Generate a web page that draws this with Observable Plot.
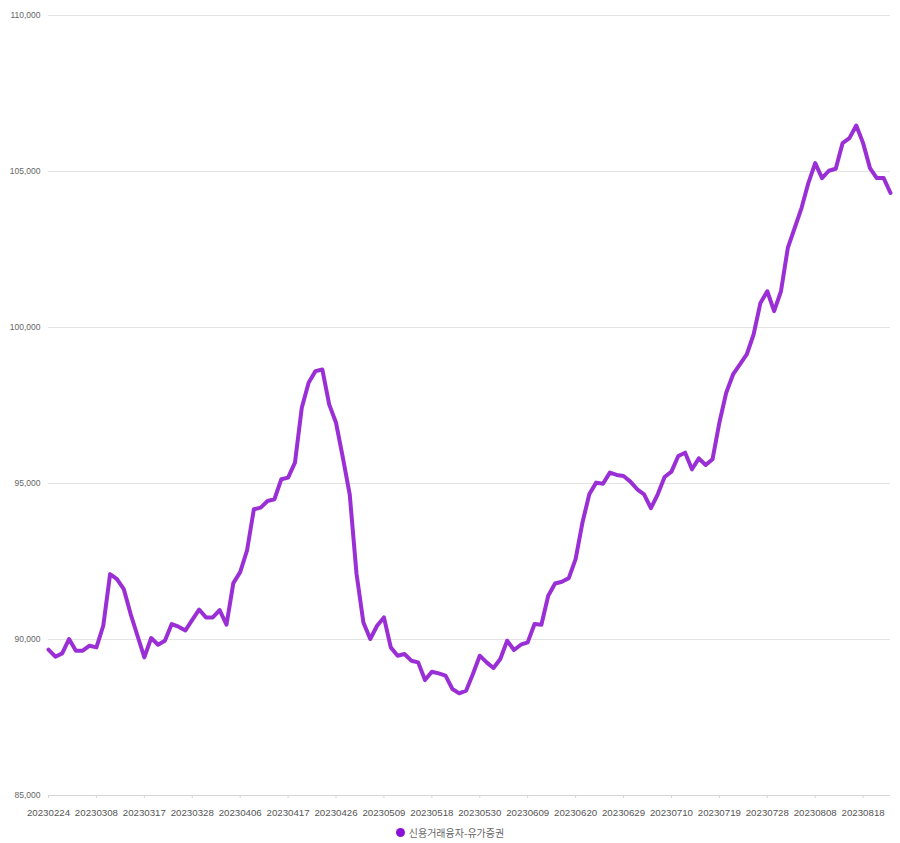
<!DOCTYPE html>
<html>
<head>
<meta charset="utf-8">
<script src="https://cdn.jsdelivr.net/npm/d3@7"></script>
<script src="https://cdn.jsdelivr.net/npm/@observablehq/plot@0.6"></script>
<style>
  html, body { margin: 0; padding: 0; background: #ffffff; }
  body { width: 900px; height: 843px; overflow: hidden; font-family: "Liberation Sans", Arial, "Noto Sans CJK KR", sans-serif; }
  #legend { height: 21px; display: flex; align-items: center; justify-content: center; padding-left: 0px; gap: 4px; font-family: "Noto Sans CJK KR", "Liberation Sans", sans-serif; font-size: 10px; color: #666; }
  #legend .dot { width: 9px; height: 9px; border-radius: 50%; background: #8a12d6; display: inline-block; }
</style>
</head>
<body>
<div id="chart"></div>
<div id="legend"></div>
<script>
const seriesName = "신용거래융자-유가증권";

const dates = [
  "20230224","20230227","20230228",
  "20230302","20230303","20230306","20230307","20230308","20230309","20230310",
  "20230313","20230314","20230315","20230316","20230317","20230320","20230321",
  "20230322","20230323","20230324","20230327","20230328","20230329","20230330","20230331",
  "20230403","20230404","20230405","20230406","20230407","20230410","20230411",
  "20230412","20230413","20230414","20230417","20230418","20230419","20230420",
  "20230421","20230424","20230425","20230426","20230427","20230428",
  "20230502","20230503","20230504","20230508","20230509","20230510","20230511",
  "20230512","20230515","20230516","20230517","20230518","20230519","20230522",
  "20230523","20230524","20230525","20230526","20230530","20230531",
  "20230601","20230602","20230605","20230607","20230608","20230609","20230612",
  "20230613","20230614","20230615","20230616","20230619","20230620","20230621",
  "20230622","20230623","20230626","20230627","20230628","20230629","20230630",
  "20230703","20230704","20230705","20230706","20230707","20230710","20230711",
  "20230712","20230713","20230714","20230717","20230718","20230719","20230720",
  "20230721","20230724","20230725","20230726","20230727","20230728","20230731",
  "20230801","20230802","20230803","20230804","20230807","20230808","20230809",
  "20230810","20230811","20230814","20230816","20230817","20230818","20230821",
  "20230822","20230823","20230824"
];

const values = [
  89673, 89449, 89554,
  90015, 89640, 89640, 89800, 89747, 90441, 92095,
  91935, 91615, 90815, 90120, 89427, 90047, 89833,
  89960, 90495, 90410, 90290, 90630, 90960, 90708, 90708,
  90943, 90473, 91807, 92160, 92853, 94175, 94228,
  94441, 94495, 95135, 95188, 95668, 97428, 98228,
  98602, 98656, 97535, 96947, 95827, 94655,
  92100, 90547, 90015, 90441, 90708, 89747, 89481,
  89535, 89321, 89267, 88700, 88968, 88915, 88840,
  88414, 88274, 88361, 88894, 89481, 89267,
  89086, 89374, 89961, 89663, 89833, 89907, 90495,
  90473, 91401, 91795, 91849, 91967, 92575, 93747,
  94655, 95028, 94990, 95348, 95273, 95241, 95060,
  94815, 94655, 94207, 94655, 95209, 95380, 95881,
  95988, 95455, 95807, 95593, 95775, 96947, 97907,
  98495, 98815, 99135, 99775, 100788, 101162, 100522,
  101162, 102549, 103189, 103829, 104629, 105269, 104789,
  105024, 105088, 105909, 106069, 106475, 105909, 105109,
  104789, 104789, 104310
];

const yTicks = [85000, 90000, 95000, 100000, 105000, 110000];
const xTickLabels = [
  "20230224","20230308","20230317","20230328","20230406","20230417","20230426",
  "20230509","20230518","20230530","20230609","20230620","20230629","20230710",
  "20230719","20230728","20230808","20230818"
];

const lineColor = "#9b2fd6";
const data = dates.map((d, i) => ({date: d, value: values[i]}));

const chart = Plot.plot({
  width: 900,
  height: 822,
  marginLeft: 48,
  marginRight: 10,
  marginTop: 15,
  marginBottom: 27,
  x: {type: "point", domain: dates, padding: 0, label: null},
  y: {domain: [85000, 110000], label: null},
  style: {fontFamily: "'Liberation Sans', Arial, sans-serif", color: "#666", background: "#fff"},
  marks: [
    Plot.gridY(yTicks, {stroke: "#e3e3e3", strokeOpacity: 1}),
    Plot.axisY(yTicks, {tickSize: 0, tickPadding: 8, tickFormat: d3.format(","), fill: "#666", fontSize: 8.5, label: null}),
    Plot.ruleY([85000], {stroke: "#d6d6d6"}),
    Plot.axisX(xTickLabels, {tickSize: 3, tickPadding: 11, stroke: "#d6d6d6", fill: "#555", fontSize: 9.7, label: null}),
    Plot.lineY(data, {x: "date", y: "value", stroke: lineColor, strokeWidth: 4, strokeLinejoin: "round", strokeLinecap: "round"})
  ]
});
document.getElementById("chart").appendChild(chart);

const legend = document.getElementById("legend");
const dot = document.createElement("span");
dot.className = "dot";
const label = document.createElement("span");
label.textContent = seriesName;
legend.appendChild(dot);
legend.appendChild(label);
</script>
</body>
</html>
